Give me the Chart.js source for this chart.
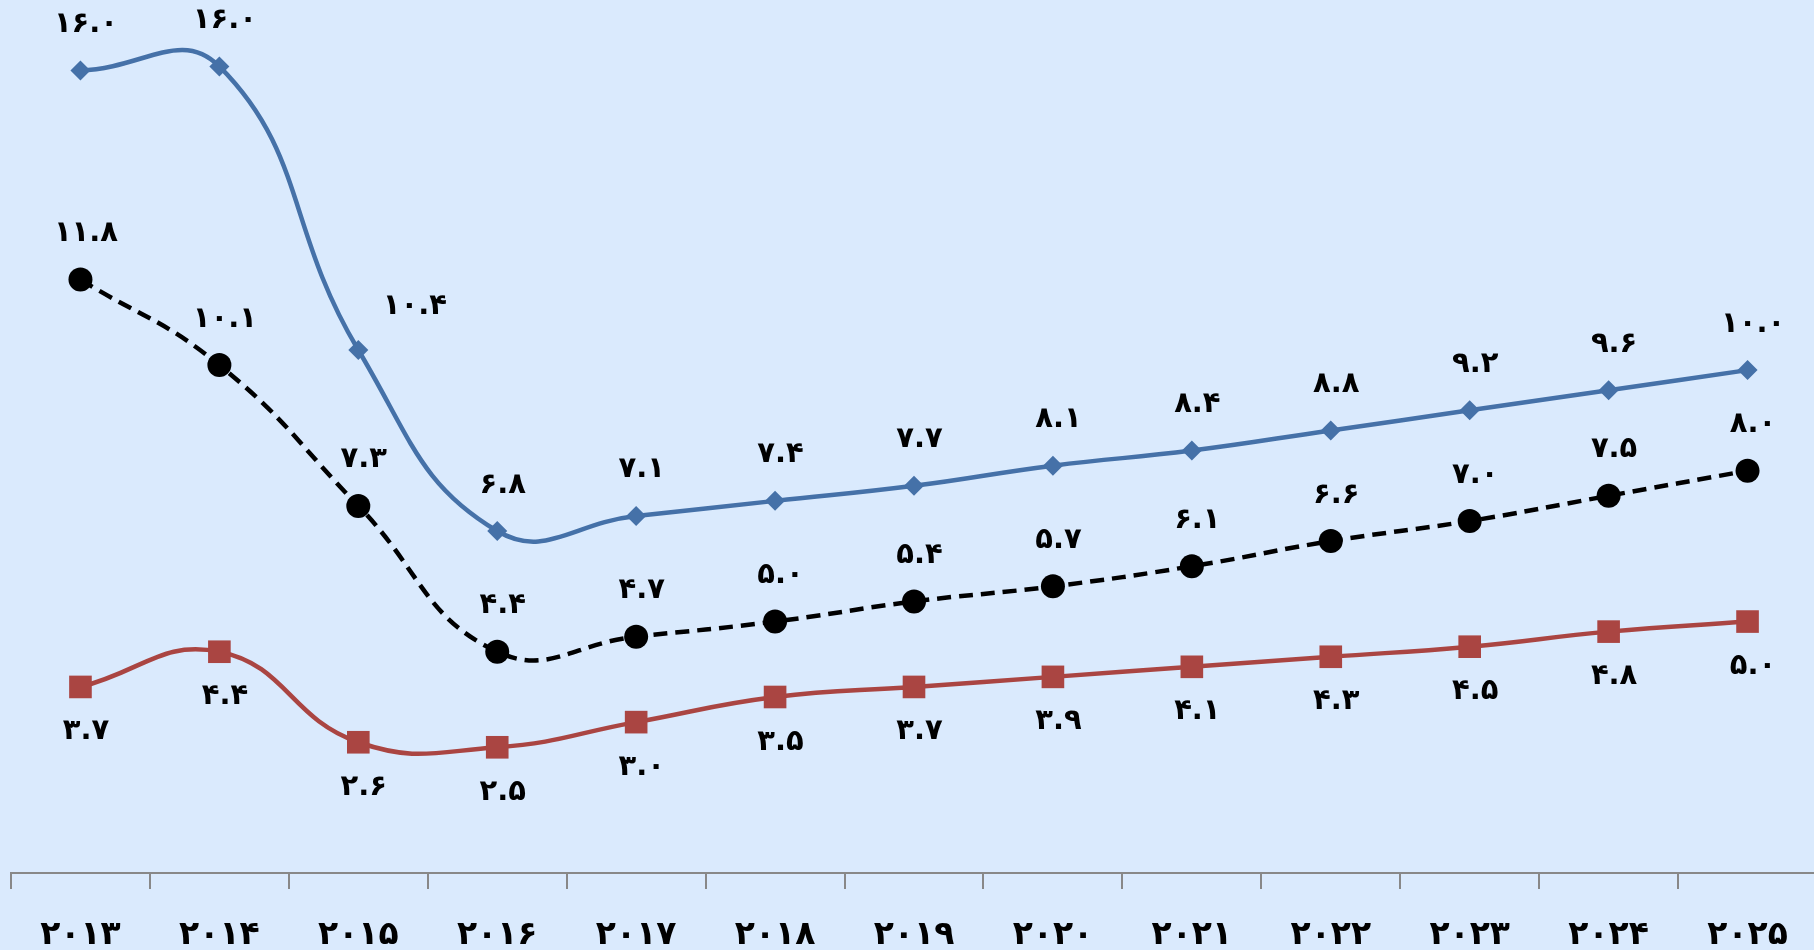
<!DOCTYPE html>
<html>
<head>
<meta charset="utf-8">
<script src="https://cdn.jsdelivr.net/npm/chart.js@4.4.1/dist/chart.umd.min.js"></script>
<style>
  html, body { margin: 0; padding: 0; overflow: hidden; background: #DAEAFD; }
  #wrap { position: absolute; left: 0; top: 0; width: 1817px; height: 950px; }
</style>
</head>
<body>
<div id="wrap"><canvas id="c"></canvas></div>
<script>
const years = ['۲۰۱۳','۲۰۱۴','۲۰۱۵','۲۰۱۶','۲۰۱۷','۲۰۱۸','۲۰۱۹','۲۰۲۰','۲۰۲۱','۲۰۲۲','۲۰۲۳','۲۰۲۴','۲۰۲۵'];
const blueValues  = [15.96, 16.04, 10.4, 6.8, 7.1, 7.4, 7.7, 8.1, 8.4, 8.8, 9.2, 9.6, 10.0];
const blackValues = [11.8, 10.1, 7.3, 4.4, 4.7, 5.0, 5.4, 5.7, 6.1, 6.6, 7.0, 7.5, 8.0];
const redValues   = [3.7, 4.4, 2.6, 2.5, 3.0, 3.5, 3.7, 3.9, 4.1, 4.3, 4.5, 4.8, 5.0];

const FONT = '"DejaVu Sans", sans-serif';
const faDigits = '۰۱۲۳۴۵۶۷۸۹';
function toFa(v) {
  return v.toFixed(1).replace(/[0-9]/g, d => faDigits[+d]);
}

const labelPlugin = {
  id: 'pointLabels',
  afterDatasetsDraw(chart) {
    const ctx = chart.ctx;
    ctx.save();
    ctx.font = 'bold 29px ' + FONT;
    ctx.fillStyle = '#000';
    ctx.textAlign = 'center';
    ctx.textBaseline = 'middle';
    const ls = 3;
    if ('letterSpacing' in ctx) ctx.letterSpacing = ls + 'px';
    chart.data.datasets.forEach((ds, di) => {
      const meta = chart.getDatasetMeta(di);
      const cfg = ds.labelCfg;
      meta.data.forEach((pt, i) => {
        let dx = 4, dy = cfg.dy;
        if (cfg.special && cfg.special[i]) { dx = cfg.special[i].dx; dy = cfg.special[i].dy; }
        ctx.fillText(toFa(ds.data[i]), pt.x + dx + ls / 2, pt.y + dy);
      });
    });
    ctx.restore();
  }
};

new Chart(document.getElementById('c'), {
  type: 'line',
  data: {
    labels: years,
    datasets: [
      {
        data: blueValues,
        borderColor: '#4571A8',
        backgroundColor: '#4571A8',
        borderWidth: 4.5,
        pointStyle: 'rectRot',
        pointRadius: 10,
        pointBorderWidth: 0,
        tension: 0.45,
        clip: false,
        labelCfg: { dy: -46, special: { 2: { dx: 55, dy: -44 } } }
      },
      {
        data: blackValues,
        borderColor: '#000000',
        backgroundColor: '#000000',
        borderWidth: 4.5,
        borderDash: [14, 8],
        pointStyle: 'circle',
        pointRadius: 12,
        pointBorderWidth: 0,
        tension: 0.45,
        clip: false,
        labelCfg: { dy: -46 }
      },
      {
        data: redValues,
        borderColor: '#AA4542',
        backgroundColor: '#AA4542',
        borderWidth: 4.5,
        pointStyle: 'rect',
        pointRadius: 16,
        pointBorderWidth: 0,
        tension: 0.45,
        clip: false,
        labelCfg: { dy: 45 }
      }
    ]
  },
  options: {
    responsive: true,
    maintainAspectRatio: false,
    animation: false,
    layout: { autoPadding: false, padding: { left: 11, right: 0, top: 0, bottom: 0 } },
    plugins: { legend: { display: false }, tooltip: { enabled: false } },
    scales: {
      x: {
        offset: true,
        grid: { display: true, drawOnChartArea: false, drawTicks: true, tickLength: 16, color: '#888888', lineWidth: 2, offset: true },
        border: { display: true, color: '#888888', width: 2 },
        ticks: { color: '#000', font: { family: FONT, size: 33, weight: 'bold' }, padding: 27, maxRotation: 0, autoSkip: false },
        afterFit(scale) { scale.height = 77; }
      },
      y: { display: false, min: 0, max: 17.36 }
    }
  },
  plugins: [labelPlugin]
});
</script>
</body>
</html>
